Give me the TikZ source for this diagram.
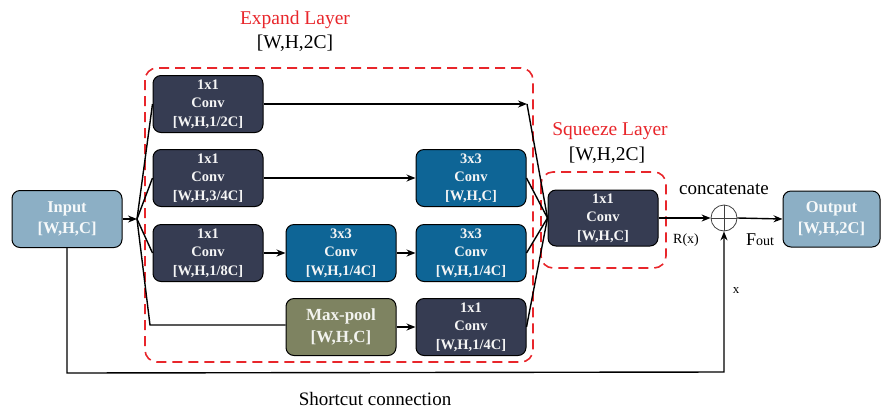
\documentclass[tikz,border=0pt]{standalone}
\usepackage{fontspec}
\setmainfont{Liberation Serif}
\usetikzlibrary{arrows.meta,calc}
\definecolor{navyfill}{HTML}{363C52}
\definecolor{bluefill}{HTML}{0E6596}
\definecolor{lightfill}{HTML}{8CAFC5}
\definecolor{olivefill}{HTML}{7E8361}
\definecolor{layerred}{HTML}{E8262B}
\begin{document}
\begin{tikzpicture}[x=1pt,y=-1pt,
  blk/.style={draw=black, line width=1pt, rounded corners=8pt, minimum width=110pt,
    minimum height=57pt, inner sep=0pt, align=center, text=white!96!black,
    font=\bfseries\fontsize{14.5}{18.5}\selectfont},
  navybox/.style={blk, fill=navyfill},
  bluebox/.style={blk, fill=bluefill},
  olivebox/.style={blk, fill=olivefill, text=white!90!olivefill,
    font=\bfseries\fontsize{17}{22}\selectfont},
  iobox/.style={blk, fill=lightfill, text=white!92!lightfill,
    font=\bfseries\fontsize{16.5}{20.5}\selectfont},
  layer/.style={draw=layerred, line width=1.6pt, dash pattern=on 10pt off 6pt, rounded corners=12pt},
  conn/.style={line width=1.4pt, draw=black},
  arr/.style={conn, -{Stealth[length=9pt,width=7pt]}},
  caption/.style={font=\fontsize{19.5}{21}\selectfont}
]
\useasboundingbox (0,0) rectangle (882,408);

% dashed layer frames
\draw[layer] (145,68) rectangle (533,362);
\draw[layer] (541,172) rectangle (666,268);

% layer captions
\node[caption, text=layerred] (expname) at (295,20) {Expand Layer};
\node[caption] (expdim) at (295,43) {[W,H,2C]};
\node[caption, text=layerred] (sqname) at (610,131) {Squeeze Layer};
\node[caption] (sqdim) at (607,155) {[W,H,2C]};

% blocks
\node[iobox] (in) at (67,219) {Input\\{}[W,H,C]};
\node[navybox] (b1) at (208,104) {1x1\\Conv\\{}[W,H,1/2C]};
\node[navybox] (b2) at (208,178) {1x1\\Conv\\{}[W,H,3/4C]};
\node[navybox] (b3) at (208,253) {1x1\\Conv\\{}[W,H,1/8C]};
\node[bluebox] (b3m) at (341,253) {3x3\\Conv\\{}[W,H,1/4C]};
\node[bluebox] (b2r) at (471,178) {3x3\\Conv\\{}[W,H,C]};
\node[bluebox] (b3r) at (471,253) {3x3\\Conv\\{}[W,H,1/4C]};
\node[olivebox] (pool) at (341,327) {Max-pool\\{}[W,H,C]};
\node[navybox] (b4r) at (471,327) {1x1\\Conv\\{}[W,H,1/4C]};
\node[navybox, minimum height=56pt] (sq) at (603,218) {1x1\\Conv\\{}[W,H,C]};
\node[iobox, minimum width=97pt, minimum height=56pt] (out) at (831.5,219) {Output\\{}[W,H,2C]};

% concatenation node
\node[circle, draw=black!75, line width=0.8pt, minimum size=26pt, inner sep=0pt] (cat) at (724,218) {};
\draw[line width=0.8pt, black!75] (cat.north) -- (cat.south) (cat.west) -- (cat.east);

% split and merge points
\coordinate (fan) at (137,219);
\coordinate (b4c) at (150,325);
\coordinate (b1j) at (527,104);
\coordinate (sc1) at ($(in.south)+(0,125)$);
\coordinate (sc2) at (724,372);

% fan-out from the input
\draw[arr] (in.east) -- (fan);
\draw[conn] (fan) -- (b1.west);
\draw[conn] (fan) -- (b2.west);
\draw[conn] (fan) -- (b3.west);
\draw[conn] (fan) -- (b4c) -- (pool.west |- b4c);

% branch paths
\draw[arr] (b1.east) -- (b1j);
\draw[arr] (b2.east) -- (b2r.west);
\draw[arr] (b3.east) -- (b3m.west);
\draw[arr] (b3m.east) -- (b3r.west);
\draw[arr] (pool.east) -- (b4r.west);

% merge into the squeeze block
\draw[conn] (b1j) -- (sq.west);
\draw[conn] (b2r.east) -- (sq.west);
\draw[conn] (b3r.east) -- (sq.west);
\draw[conn] (b4r.east) -- (sq.west);

% output side
\draw[arr] (sq.east) -- (cat.west);
\draw[arr] (cat.east) -- (out.west);
\draw[arr] (in.south) -- (sc1) -- (sc2) -- (cat.south);

% labels
\node[font=\fontsize{19}{21}\selectfont] (catlbl) at (724,189) {concatenate};
\node[font=\fontsize{14}{16}\selectfont] (rx) at (686,240) {R(x)};
\node[font=\fontsize{18}{20}\selectfont] (fout) at (760,240) {F\fontsize{14}{16}\selectfont out};
\node[font=\fontsize{13}{15}\selectfont] (xlbl) at (736,291) {x};
\node[font=\fontsize{19}{21}\selectfont] (sclbl) at (375,399) {Shortcut connection};
\end{tikzpicture}
\end{document}
